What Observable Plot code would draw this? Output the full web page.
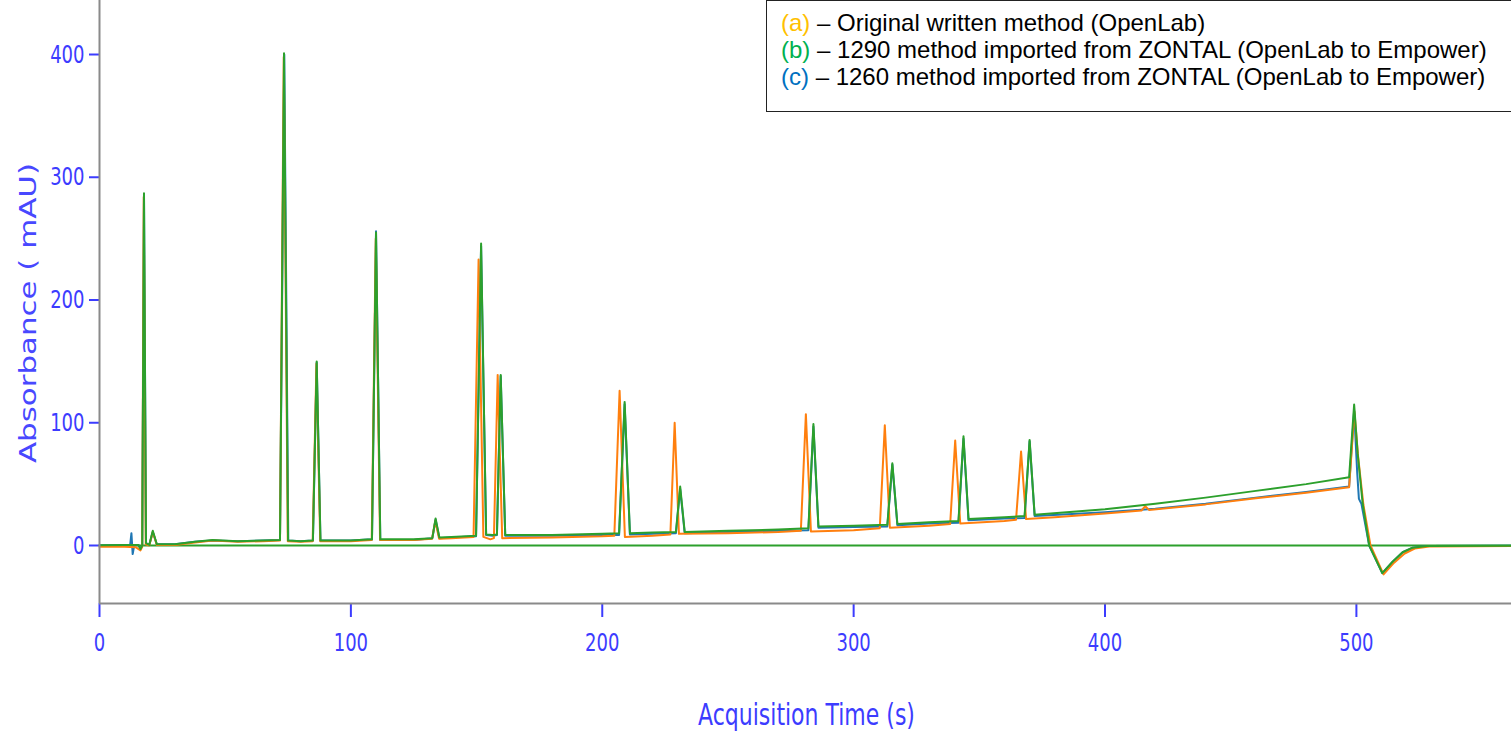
<!DOCTYPE html>
<html>
<head>
<meta charset="utf-8">
<script src="https://cdn.jsdelivr.net/npm/d3@7"></script>
<script src="https://cdn.jsdelivr.net/npm/@observablehq/plot@0.6"></script>
<style>
  html, body { margin: 0; padding: 0; background: #fff; overflow: hidden; }
  #wrap { position: relative; width: 1511px; height: 731px; overflow: hidden; background: #fff; }
  #legend {
    position: absolute; left: 766px; top: 0px; width: 780px; height: 112px;
    box-sizing: border-box; border: 1.5px solid #222; background: #fff;
    font-family: "Liberation Sans", Arial, sans-serif; font-size: 24px; line-height: 27px;
    padding: 8px 0 0 14px; color: #000; white-space: nowrap;
  }
</style>
</head>
<body>
<div id="wrap"><div id="legend"></div></div>
<script>
// ---- chart values ----
const xTicks = [0, 100, 200, 300, 400, 500];
const yTicks = [0, 100, 200, 300, 400];
const xDomain = [0, 561.7];
const yDomain = [-47.25, 444];
const xLabel = "Acquisition Time (s)";
const yLabel = "Absorbance ( mAU)";

const legendKeys = ["(a)", "(b)", "(c)"];
const legendKeyColors = ["#FFC000", "#00B050", "#0070C0"];
const legendTexts = [
  " \u2013 Original written method (OpenLab)",
  " \u2013 1290 method imported from ZONTAL (OpenLab to Empower)",
  " \u2013 1260 method imported from ZONTAL (OpenLab to Empower)"
];

// (a) original method – orange trace: [time s, absorbance mAU]
const traceA = [
  [0, -1], [10, -1], [14.5, -1.5], [16.3, -4], [17.0, -1], [17.6, 284], [18.4, 1], [19.8, 0],
  [21.2, 11], [22.8, 0.5], [30, 0.5], [38, 2.5], [45, 4], [55, 3], [65, 3.5], [71.8, 4],
  [73.3, 398], [74.9, 3.5], [80, 3], [84.8, 3.5], [86.3, 148], [87.8, 3.5], [100, 3.5],
  [108.3, 4.5], [109.9, 250], [111.6, 4.5], [125, 4.5], [132.3, 5.5], [133.6, 20], [135.1, 5.5],
  [140, 6], [148.8, 7], [150.8, 233], [152.7, 7], [155.5, 5], [156.9, 6], [158.4, 139], [160.2, 6],
  [180, 6.5], [200, 7.5], [204.8, 8], [206.9, 126], [209.0, 7], [220, 8], [227.1, 9], [228.8, 100],
  [230.5, 9.5], [250, 10], [270, 11], [279.0, 12], [281.0, 107], [283.0, 11.5], [300, 12.5],
  [310.4, 14], [312.4, 98], [314.4, 14.5], [330, 16], [338.4, 17.5], [340.4, 85.5], [342.4, 18],
  [360, 20], [364.6, 21], [366.6, 76.5], [368.6, 21.5], [380, 23], [400, 26], [414.5, 28.5],
  [416.0, 32], [417.5, 29], [440, 33.5], [460, 38.5], [480, 43], [497.1, 47.5], [499.2, 109],
  [500.7, 72], [502.8, 33], [505.6, 0], [510.8, -23.5], [515, -14], [519.2, -6.5], [523.2, -2.5],
  [529, -0.8], [562, -0.4]
];

// (b) 1290 method – green trace
const traceB = [
  [0, 0.3], [10, 0.5], [15.5, 0.5], [16.3, -3], [17.0, 0], [17.7, 287], [18.5, 2], [19.8, 0.5],
  [21.2, 12], [22.8, 1], [30, 1], [38, 3], [45, 4.5], [55, 3.5], [65, 4], [71.8, 4.5],
  [73.4, 401], [75.0, 4], [80, 3.5], [84.9, 4], [86.4, 150], [87.9, 4], [100, 4],
  [108.4, 5], [110.0, 255], [111.7, 5], [125, 5], [132.4, 6], [133.7, 22], [135.2, 6.5],
  [140, 7], [149.8, 8], [151.8, 246], [153.8, 9], [156.5, 8.5], [158.1, 9], [159.6, 139], [161.4, 8.5],
  [180, 8.5], [200, 9.5], [206.7, 10], [208.9, 117], [211.0, 10], [220, 10.5], [229.3, 11], [231.0, 48],
  [232.8, 11], [250, 12], [270, 13], [282.0, 14], [284.0, 99], [286.0, 15.5], [300, 16],
  [313.4, 17], [315.4, 67], [317.4, 17.5], [330, 19], [341.7, 20], [343.7, 89], [345.7, 21.5],
  [360, 23], [368.0, 24], [370.0, 86], [372.0, 25], [400, 29.5], [420, 34], [440, 39],
  [460, 44.5], [480, 50], [497.1, 55.6], [499.1, 114.8], [500.5, 75], [502.5, 34], [505.1, 0],
  [510.3, -22.5], [514.5, -13], [518.4, -5.5], [522.4, -1.8], [528, -0.5], [562, -0.3]
];

// (c) 1260 method – blue trace
const traceC = [
  [0, 0], [10, 0.5], [12.2, 0.5], [12.7, 10], [13.2, -7], [13.8, 0], [15.5, 0.5], [16.3, -3],
  [17.0, 0], [17.7, 285], [18.5, 2], [19.8, 0.5], [21.2, 11], [22.8, 1], [30, 1], [38, 3],
  [45, 4], [55, 3.5], [65, 4], [71.8, 4.5], [73.5, 400], [75.1, 4], [80, 3.5], [84.9, 4],
  [86.4, 149], [87.9, 4], [100, 4], [108.4, 5], [110.0, 256], [111.7, 4.5], [125, 4.5],
  [132.4, 6], [133.7, 21], [135.2, 6], [140, 6.5], [149.8, 7.5], [151.8, 244], [153.8, 8.5],
  [156.5, 8], [158.1, 8.5], [159.6, 138], [161.4, 8], [180, 8], [200, 8.5], [206.7, 8.5],
  [208.9, 115], [211.0, 9], [220, 9.5], [229.3, 10], [231.0, 46], [232.8, 10], [250, 11],
  [270, 12], [282.0, 12.5], [284.0, 97], [286.0, 14.5], [300, 15], [313.4, 15.5], [315.4, 66],
  [317.4, 16.5], [330, 18], [341.7, 18.5], [343.7, 87], [345.7, 20.5], [360, 22], [368.0, 22.5],
  [370.0, 85], [372.0, 24], [400, 27], [420, 30], [440, 34], [460, 39], [480, 43.5],
  [497.1, 48], [499.1, 110], [500.3, 60], [501.0, 38], [502.0, 34], [505.1, 0], [510.3, -22.5],
  [514.5, -13], [518.4, -5.5], [522.4, -1.8], [528, -0.5], [562, -0.3]
];

const colorA = "#ff7f0e", colorB = "#2ca02c", colorC = "#1f77b4";
const axisBlue = "#3c3cff";
const axisGray = "#8a8a8a";

const toRows = arr => arr.map(([t, v]) => ({t, v}));
const dataA = toRows(traceA), dataB = toRows(traceB), dataC = toRows(traceC);

// ---- legend (HTML overlay, top right) ----
const legend = document.getElementById("legend");
legendKeys.forEach((k, i) => {
  const line = document.createElement("div");
  const key = document.createElement("span");
  key.textContent = k;
  key.style.color = legendKeyColors[i];
  line.appendChild(key);
  line.appendChild(document.createTextNode(legendTexts[i]));
  legend.appendChild(line);
});

// ---- chart ----
const plot = Plot.plot({
  width: 1511,
  height: 731,
  marginLeft: 99,
  marginRight: 0,
  marginTop: 0,
  marginBottom: 128,
  style: {fontFamily: "'DejaVu Sans', Verdana, sans-serif", fontSize: "18px", color: axisBlue, background: "#fff", overflow: "visible"},
  x: {domain: xDomain},
  y: {domain: yDomain},
  marks: [
    Plot.axisX({ticks: xTicks, tickSize: 14, tickPadding: 18, strokeWidth: 2, label: null, fontSize: 18, tickFormat: d => String(d)}),
    Plot.axisY({ticks: yTicks, tickSize: 10, tickPadding: 5, strokeWidth: 2, label: null, fontSize: 18, tickFormat: d => String(d)}),
    Plot.ruleY([0], {stroke: colorB, strokeWidth: 2}),
    Plot.line(dataC, {x: "t", y: "v", stroke: colorC, strokeWidth: 2}),
    Plot.line(dataA, {x: "t", y: "v", stroke: colorA, strokeWidth: 2}),
    Plot.line(dataB, {x: "t", y: "v", stroke: colorB, strokeWidth: 2}),
    Plot.ruleX([xDomain[0]], {stroke: axisGray, strokeWidth: 2}),
    Plot.ruleY([yDomain[0]], {stroke: axisGray, strokeWidth: 2}),
    Plot.text([xLabel], {text: d => d, frameAnchor: "bottom", dx: 1, dy: 119, textAnchor: "middle", lineAnchor: "bottom", fontSize: 22, fill: axisBlue}),
    Plot.text([yLabel], {text: d => d, frameAnchor: "left", dx: -64, dy: 11, rotate: -90, textAnchor: "middle", lineAnchor: "bottom", fontSize: 23, fill: "#4848ff"})
  ]
});

document.getElementById("wrap").insertBefore(plot, legend);

// the source picture is stretched vertically: reproduce that on the texts
const stretch = 1.35;
plot.querySelectorAll("text").forEach(el => {
  if (el.textContent === yLabel) {
    // rotated label: stretch along its length
    el.setAttribute("textLength", "300");
    el.setAttribute("lengthAdjust", "spacingAndGlyphs");
    return;
  }
  const b = el.getBBox();
  const tr = el.getAttribute("transform") || "";
  const cy = b.y + b.height / 2;
  el.setAttribute("transform", `${tr} translate(0,${cy}) scale(1,${stretch}) translate(0,${-cy})`);
});
</script>
</body>
</html>
